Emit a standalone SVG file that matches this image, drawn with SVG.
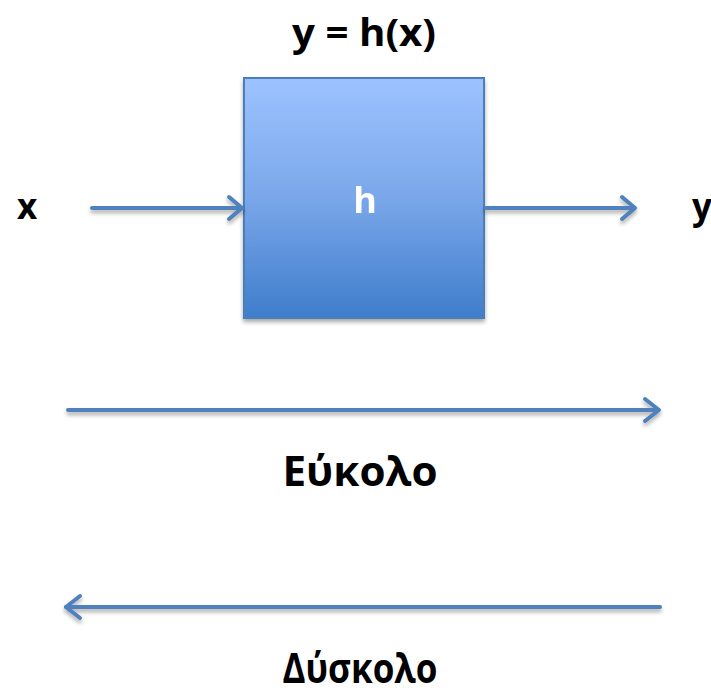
<svg xmlns="http://www.w3.org/2000/svg" width="711" height="691" viewBox="0 0 711 691">
<style>
.lbl{font-family:"Open Sans","Noto Sans","Liberation Sans",sans-serif;font-weight:bold;fill:#000;text-anchor:middle}
.conn{stroke:#4F81BD;stroke-width:4;fill:none;stroke-linecap:round}
.head{stroke:#4F81BD;stroke-width:4;fill:none;stroke-linecap:round;stroke-linejoin:round}
</style>
<defs>
<linearGradient id="g" x1="0" y1="0" x2="0" y2="1">
<stop offset="0" stop-color="#9DC3FF"/>
<stop offset="0.5" stop-color="#7AA7EA"/>
<stop offset="1" stop-color="#3F7DCB"/>
</linearGradient>
<filter id="sh" x="-10%" y="-10%" width="130%" height="130%">
<feGaussianBlur in="SourceAlpha" stdDeviation="2"/>
<feOffset dx="0" dy="3" result="b"/>
<feComponentTransfer><feFuncA type="linear" slope="0.35"/></feComponentTransfer>
<feMerge><feMergeNode/><feMergeNode in="SourceGraphic"/></feMerge>
</filter>
</defs>
<rect width="711" height="691" fill="#fff"/>
<text class="lbl" x="364" y="46" font-size="37" textLength="144" lengthAdjust="spacingAndGlyphs">y = h(x)</text>
<g id="node-h" filter="url(#sh)">
<rect x="244" y="78" width="240" height="240" fill="url(#g)" stroke="#4A7EBB" stroke-width="2"/>
<text x="365" y="213" font-size="36" fill="#fff" font-family="Open Sans, Noto Sans, Liberation Sans, sans-serif" font-weight="bold" text-anchor="middle">h</text>
</g>
<g id="node-x"><text class="lbl" x="27" y="219" font-size="35">x</text></g>
<g id="node-y"><text class="lbl" x="702" y="219" font-size="35">y</text></g>
<g id="connectors" filter="url(#sh)">
<line class="conn" x1="92" y1="208" x2="241" y2="208"/>
<polyline class="head" points="229,197 242,208 229,219"/>
<line class="conn" x1="486" y1="208" x2="634" y2="208"/>
<polyline class="head" points="622,197 635,208 622,219"/>
<line class="conn" x1="68" y1="410" x2="658" y2="410"/>
<polyline class="head" points="645,399 659,410 645,421"/>
<line class="conn" x1="660" y1="607" x2="66" y2="607"/>
<polyline class="head" points="80,596 66,607 80,618"/>
</g>
<text class="lbl" x="360" y="486" font-size="42" textLength="155" lengthAdjust="spacingAndGlyphs">Εύκολο</text>
<text class="lbl" x="360" y="683" font-size="42" textLength="155" lengthAdjust="spacingAndGlyphs">Δύσκολο</text>
</svg>
